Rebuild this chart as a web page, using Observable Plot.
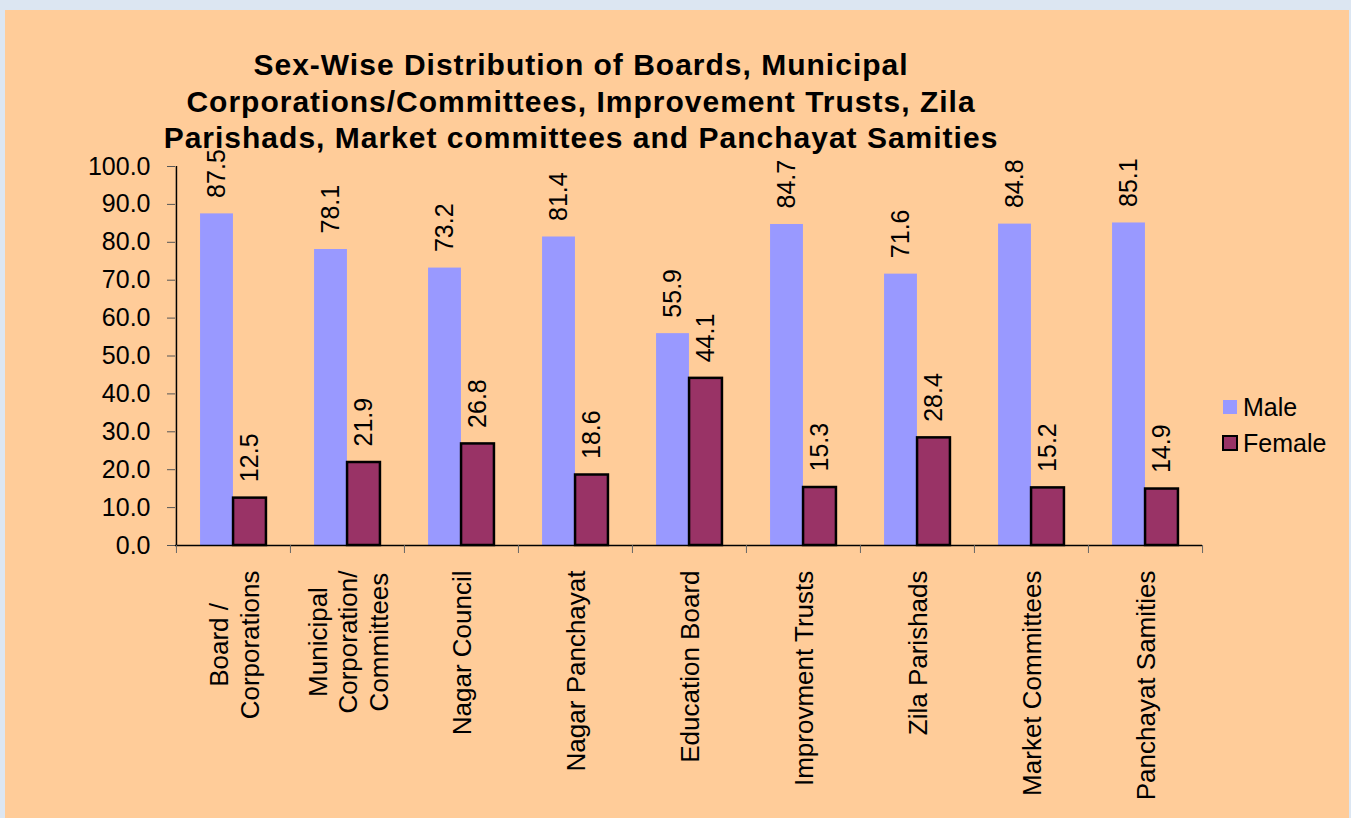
<!DOCTYPE html>
<html><head><meta charset="utf-8">
<script src="https://cdn.jsdelivr.net/npm/d3@7"></script>
<script src="https://cdn.jsdelivr.net/npm/@observablehq/plot@0.6"></script>
<style>
html,body{margin:0;padding:0;background:#dce6f2;width:1351px;height:818px;overflow:hidden;font-family:"Liberation Sans",Arial,sans-serif;}
#panel{position:absolute;left:5px;top:10px;width:1344px;height:808px;background:#ffcc99;}
#chart{position:absolute;left:0;top:0;}
#title{position:absolute;left:81px;width:1000px;top:47px;text-align:center;font-weight:bold;font-size:30px;letter-spacing:1px;line-height:36.5px;color:#000;white-space:nowrap;}
.sw{position:absolute;box-sizing:border-box;}
.lt{position:absolute;font-size:25px;line-height:25px;color:#000;white-space:nowrap;}
</style>
</head>
<body>
<div id="panel"></div>
<div id="chart"></div>
<div id="title">Sex-Wise Distribution of Boards, Municipal<br>Corporations/Committees, Improvement Trusts, Zila<br>Parishads, Market committees and Panchayat Samities</div>
<div class="sw" style="left:1223px;top:400px;width:14px;height:14px;background:#9999ff;"></div>
<div class="lt" style="left:1243px;top:395px;">Male</div>
<div class="sw" style="left:1222px;top:435px;width:16px;height:16px;background:#993366;border:2px solid #000;"></div>
<div class="lt" style="left:1243px;top:431px;">Female</div>
<script>
const categories = ["Board /\nCorporations", "Municipal\nCorporation/\nCommittees", "Nagar Council", "Nagar Panchayat", "Education Board", "Improvment Trusts", "Zila Parishads", "Market Committees", "Panchayat Samities"];
const male = [87.5, 78.1, 73.2, 81.4, 55.9, 84.7, 71.6, 84.8, 85.1];
const female = [12.5, 21.9, 26.8, 18.6, 44.1, 15.3, 28.4, 15.2, 14.9];
const yTicks = [0, 10, 20, 30, 40, 50, 60, 70, 80, 90, 100];

const W = 1351, H = 818, mL = 175, mR = 149, mT = 166, mB = 273;
const bw = (W - mL - mR) / categories.length;
const barW = 33;
const FONT = "'Liberation Sans', Arial, sans-serif";
const catSize = 26;

const maleRows = categories.map((c, i) => ({category: c, value: male[i]}));
const femaleRows = categories.map((c, i) => ({category: c, value: female[i]}));

const ctx = document.createElement("canvas").getContext("2d");
ctx.font = catSize + "px 'Liberation Sans'";
const labelMarks = categories.map(c => {
  const w = Math.max(...c.split("\n").map(s => ctx.measureText(s).width));
  return Plot.text([c], {x: d => d, text: d => d, frameAnchor: "bottom", rotate: -90,
    textAnchor: "middle", lineAnchor: "middle", lineHeight: 1.18, dy: 25 + w / 2, fontSize: catSize, fill: "black"});
});

const chart = Plot.plot({
  width: W, height: H,
  marginLeft: mL, marginRight: mR, marginTop: mT, marginBottom: mB,
  style: {background: "transparent", fontFamily: FONT, fontSize: "25px", color: "black", overflow: "visible"},
  x: {type: "band", domain: categories, padding: 0, axis: null},
  y: {domain: [0, 100], axis: null},
  marks: [
    Plot.barY(maleRows, {x: "category", y: "value", fill: "#9999ff",
      insetLeft: (bw - 2 * barW) / 2, insetRight: bw - (bw - 2 * barW) / 2 - barW}),
    Plot.barY(femaleRows, {x: "category", y: "value", fill: "#993366", stroke: "black", strokeWidth: 2.5,
      insetLeft: bw / 2, insetRight: (bw - 2 * barW) / 2}),
    Plot.ruleY([0], {stroke: "black", strokeWidth: 1.5}),
    Plot.ruleX([categories[0]], {dx: -bw / 2, stroke: "black", strokeWidth: 1.5}),
    Plot.axisY({ticks: yTicks, tickFormat: d => d.toFixed(1), tickSize: 8, tickPadding: 17,
      stroke: "#555", fill: "black", label: null, fontSize: 25}),
    Plot.ruleX(categories, {dx: -bw / 2, y1: 0, y2: 0, insetBottom: -8, stroke: "#666"}),
    Plot.ruleX([categories[categories.length - 1]], {dx: bw / 2, y1: 0, y2: 0, insetBottom: -8, stroke: "#666"}),
    Plot.text(maleRows, {x: "category", y: "value", text: d => d.value.toFixed(1), rotate: -90,
      textAnchor: "start", lineAnchor: "middle", dx: -barW / 2, dy: -16, fontSize: 25, fill: "black"}),
    Plot.text(femaleRows, {x: "category", y: "value", text: d => d.value.toFixed(1), rotate: -90,
      textAnchor: "start", lineAnchor: "middle", dx: barW / 2, dy: -16, fontSize: 25, fill: "black"}),
    ...labelMarks
  ]
});
document.getElementById("chart").appendChild(chart);
</script>
</body></html>
